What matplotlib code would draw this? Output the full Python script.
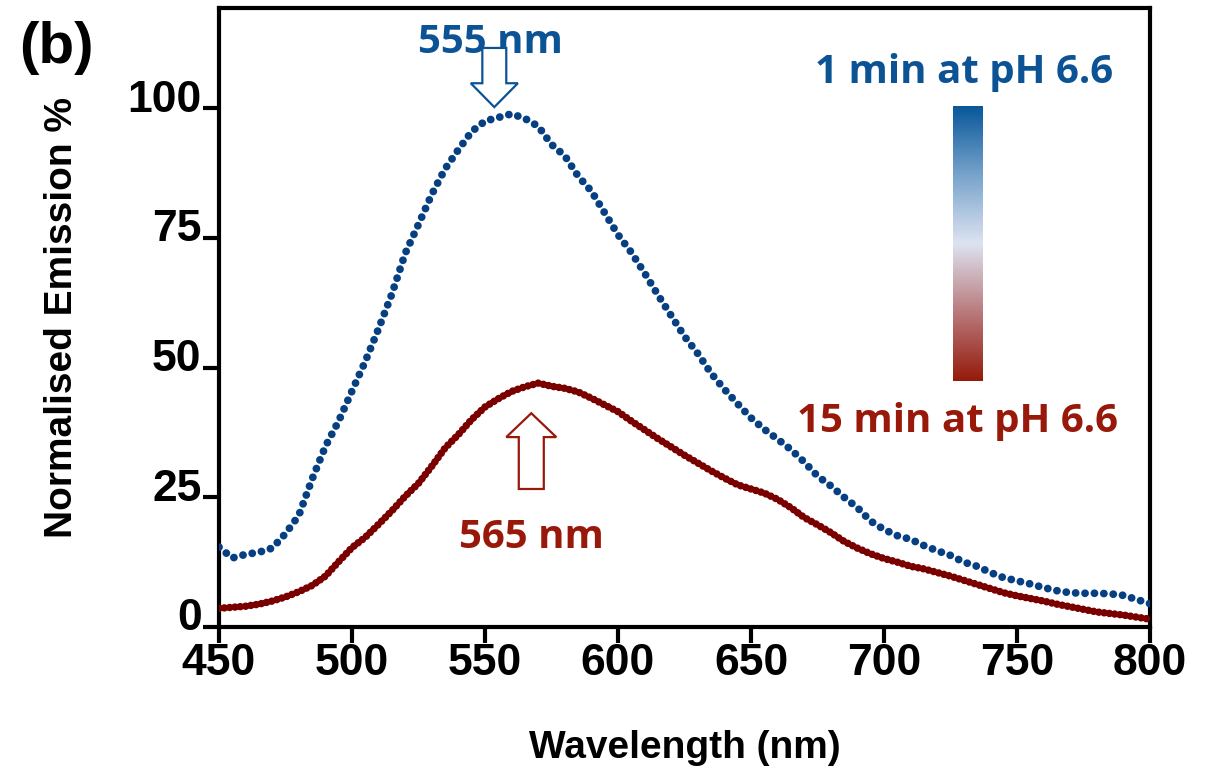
import numpy as np
import matplotlib
matplotlib.use("Agg")
import matplotlib.pyplot as plt
from matplotlib import font_manager
from matplotlib.colors import LinearSegmentedColormap
from matplotlib.patches import FancyArrow
from matplotlib.transforms import ScaledTranslation

wavelength = list(range(450, 801, 5))

emission_1min = [
    15.4, 13.3, 14.0, 14.4, 15.2, 18.0, 21.5, 28.5, 34.8, 39.7,
    45.5, 51.2, 57.5, 64.2, 72.0, 77.6, 83.4, 88.3, 92.0, 95.5,
    97.5, 98.2, 98.9, 98.0, 96.5, 93.0, 90.8, 86.9, 84.0, 79.8,
    75.6, 72.2, 68.2, 64.0, 60.0, 56.0, 52.7, 48.9, 45.8, 43.0,
    40.3, 38.1, 36.2, 34.2, 31.8, 29.1, 27.2, 25.0, 23.0, 20.4,
    18.8, 17.6, 16.9, 15.7, 14.7, 13.8, 12.5, 11.7, 10.5, 9.5,
    8.9, 8.3, 7.6, 7.0, 6.6, 6.5, 6.5, 6.4, 6.1, 5.3, 4.5,
]

emission_15min = [
    3.6, 3.8, 4.0, 4.4, 5.0, 5.8, 6.8, 8.0, 9.8, 12.6,
    15.3, 17.3, 19.8, 22.4, 25.2, 27.7, 31.0, 34.5, 37.1, 40.0,
    42.4, 44.0, 45.4, 46.3, 47.0, 46.4, 46.0, 45.3, 44.1, 42.8,
    41.5, 39.7, 38.0, 36.3, 34.7, 33.1, 31.6, 30.1, 28.7, 27.4,
    26.6, 25.8, 24.6, 23.0, 21.1, 19.7, 18.2, 16.5, 15.2, 14.1,
    13.2, 12.5, 11.7, 11.2, 10.5, 9.8, 9.0, 8.2, 7.4, 6.6,
    6.0, 5.5, 5.0, 4.4, 3.9, 3.4, 2.9, 2.6, 2.3, 1.9, 1.5,
]

x_ticks = [450, 500, 550, 600, 650, 700, 750, 800]
y_ticks = [0, 25, 50, 75, 100]

peak_labels = ["555 nm", "565 nm"]
legend_labels = ["1 min at pH 6.6", "15 min at pH 6.6"]

BLUE_DOT = "#063f82"
RED_DOT = "#7a0000"
BLUE_TXT = "#0b5394"
RED_TXT = "#98180a"


def pick_font(names):
    for name in names:
        try:
            font_manager.findfont(font_manager.FontProperties(family=name, weight="bold"),
                                  fallback_to_default=False)
            return name
        except ValueError:
            continue
    return "DejaVu Sans"


def main():
    axis_font = pick_font(["Liberation Sans Narrow", "Liberation Sans", "Arial"])
    narrow = axis_font == "Liberation Sans Narrow"
    note_font = pick_font(["Open Sans", "Lato", "DejaVu Sans"])

    tick_size = 35 if narrow else 32
    label_size = 34 if narrow else 28

    fig = plt.figure(figsize=(12.08, 7.73), dpi=100)
    ax = fig.add_axes([219 / 1208, 1 - 627 / 773, 931 / 1208, 619 / 773])

    ax.plot(wavelength, emission_1min, color=BLUE_DOT, lw=5.6,
            linestyle=(0, (0.01, 1.2)), dash_capstyle="round", zorder=3)
    ax.plot(wavelength, emission_15min, color=RED_DOT, lw=5.4,
            linestyle=(0, (0.01, 0.7)), dash_capstyle="round", zorder=3)

    ax.set_xlim(450, 800)
    ax.set_ylim(0, 119.3)
    ax.set_xticks(x_ticks)
    ax.set_yticks(y_ticks)

    for s in ax.spines.values():
        s.set_linewidth(3.0)
    ax.tick_params(axis="both", width=3.0, length=11.5, labelsize=tick_size)
    ax.tick_params(axis="y", pad=1)
    ax.tick_params(axis="x", pad=0)
    for lab in ax.get_xticklabels() + ax.get_yticklabels():
        lab.set_fontfamily(axis_font)
        lab.set_fontweight("bold")
    shift = ScaledTranslation(0, 9 / 72, fig.dpi_scale_trans)
    for lab in ax.get_yticklabels():
        lab.set_transform(lab.get_transform() + shift)

    ax.set_xlabel("Wavelength (nm)", fontsize=label_size, fontweight="bold",
                  family=axis_font)
    ax.set_ylabel("Normalised Emission %", fontsize=label_size, fontweight="bold",
                  family=axis_font)
    ax.xaxis.set_label_coords(0.5, -0.167)
    ax.yaxis.set_label_coords(-0.149, 0.5)

    fig.text(56 / 1208, 1 - 48 / 773, "(b)", fontsize=42, fontweight="bold",
             family=axis_font, ha="center", va="center")

    # peak arrows
    ax.add_patch(FancyArrow(553.5, 111.6, 0, -11.4, width=9.0, head_width=17.7,
                            head_length=4.6, length_includes_head=True,
                            facecolor="white", edgecolor=BLUE_TXT, lw=1.6, zorder=4))
    ax.add_patch(FancyArrow(567.4, 26.6, 0, 14.6, width=9.4, head_width=18.8,
                            head_length=4.6, length_includes_head=True,
                            facecolor="white", edgecolor=RED_TXT, lw=1.6, zorder=4))

    ax.text(552, 110.6, peak_labels[0], color=BLUE_TXT, fontsize=29,
            fontweight="bold", family=note_font, ha="center", va="baseline")
    ax.text(567.5, 15.2, peak_labels[1], color=RED_TXT, fontsize=29,
            fontweight="bold", family=note_font, ha="center", va="baseline")

    ax.text(730, 104.8, legend_labels[0], color=BLUE_TXT, fontsize=29,
            fontweight="bold", family=note_font, ha="center", va="baseline")
    ax.text(727.8, 37.6, legend_labels[1], color=RED_TXT, fontsize=29,
            fontweight="bold", family=note_font, ha="center", va="baseline")

    # gradient bar, blue on top fading to red at the bottom
    cmap = LinearSegmentedColormap.from_list(
        "ph", ["#951a0a", "#b97a7c", "#dde3f1", "#78a3cb", "#08589a"])
    cax = ax.inset_axes([0.788, 0.397, 0.032, 0.444])
    cax.imshow(np.linspace(1, 0, 256).reshape(-1, 1), aspect="auto", cmap=cmap)
    cax.set_axis_off()

    fig.savefig("out.png", dpi=100)


if __name__ == "__main__":
    main()
